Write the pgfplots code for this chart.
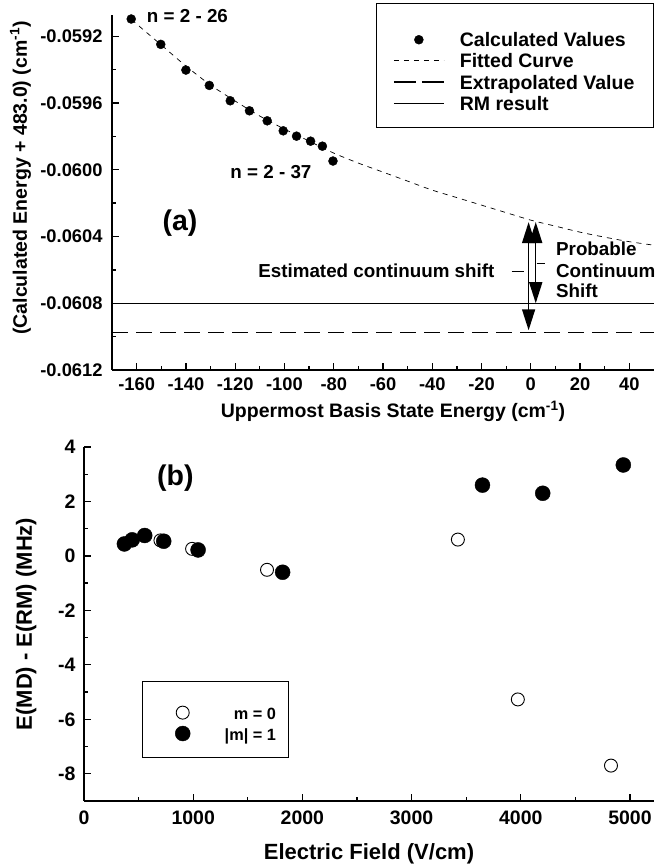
\documentclass[border=0pt]{standalone}
\usepackage{fontspec}
\setmainfont{Liberation Sans}
\usepackage{pgfplots}
\pgfplotsset{compat=1.18}
\usetikzlibrary{arrows.meta}
\newcommand\fa{\fontsize{18.3}{22}\selectfont\bfseries}
\newcommand\fann{\fontsize{18.8}{22}\selectfont\bfseries}
\newcommand\flega{\fontsize{19.5}{22.3}\selectfont\bfseries}
\newcommand\fal{\fontsize{19.5}{23}\selectfont\bfseries}
\newcommand\fb{\fontsize{19.5}{23}\selectfont\bfseries}
\newcommand\fbl{\fontsize{22}{26}\selectfont\bfseries}
\newcommand\flegb{\fontsize{16.3}{22}\selectfont\bfseries}
\newcommand\fpanel{\fontsize{28.5}{32}\selectfont\bfseries}
\pgfplotsset{
  lineleg/.style={legend image code/.code={\path[draw=none,fill=none] (0pt,0pt) -- (64pt,0pt); \draw[##1] (0pt,0pt) -- (50pt,0pt);}},
  longleg/.style={legend image code/.code={\path[draw=none,fill=none] (0pt,0pt) -- (64pt,0pt); \draw[##1, dash pattern=on 22pt off 6pt] (0pt,0pt) -- (50pt,0pt);}},
  dotleg/.style={legend image code/.code={\path[draw=none,fill=none] (0pt,0pt) -- (64pt,0pt); \draw[##1] plot coordinates {(25pt,0pt)};}},
  circleg/.style={legend image code/.code={\path[draw=none,fill=none] (-8pt,0pt) -- (40pt,0pt); \draw[##1] plot coordinates {(0pt,0pt)};}},
}

\begin{document}
\begin{tikzpicture}[x=1pt,y=1pt]
\useasboundingbox (0,0) rectangle (654,867);
% (a) convergence with basis size
\begin{axis}[
  at={(112pt,497pt)}, anchor=south west, scale only axis,
  width=542pt, height=355pt,
  xmin=-170, xmax=50, ymin=-0.0612, ymax=-0.059073,
  clip=false, scaled y ticks=false, scaled x ticks=false,
  axis lines*=left, axis line style={line width=1.8pt},
  tick align=inside, major tick length=7pt, minor tick length=4pt,
  every tick/.style={black, line width=1.3pt},
  xtick={-160,-140,...,40},
  xticklabels={-160,-140,-120,-100,-80,-60,-40,-20,0,20,40},
  minor x tick num=1,
  ytick={-0.0612,-0.0608,-0.0604,-0.0600,-0.0596,-0.0592},
  yticklabels={-0.0612,-0.0608,-0.0604,-0.0600,-0.0596,-0.0592},
  minor y tick num=1,
  ticklabel style={font=\fa},
  yticklabel style={xshift=-6pt},
  xticklabel style={yshift=-4pt},
  xlabel={Uppermost Basis State Energy (cm\textsuperscript{-1})},
  ylabel={(Calculated Energy + 483.0) (cm\textsuperscript{-1})},
  xlabel style={at={([xshift=10pt,yshift=-48pt]rel axis cs:0.5,0)}, anchor=base, font=\fal},
  ylabel style={at={([xshift=-85pt,yshift=14.5pt]rel axis cs:0,0.5)}, anchor=base, font=\fal},
  reverse legend,
  legend cell align=left,
  legend style={at={(rel axis cs:0.5185,0.9606)}, anchor=north west,
    draw=none, fill=none, font=\flega, inner sep=0pt, row sep=0pt,
    cells={anchor=west}},
]
\addplot[black, line width=1.1pt, lineleg]
  coordinates {(-170,-0.0608) (50,-0.0608)};
\addplot[black, line width=1.3pt, dash pattern=on 16pt off 8pt, longleg]
  coordinates {(-170,-0.060974) (50,-0.060974)};
\addplot[black, line width=0.7pt, dash pattern=on 5pt off 5pt, smooth, lineleg]
  coordinates {
  (-162,-0.059098) (-160,-0.0591268) (-150,-0.0592528) (-140,-0.0593787)
  (-130,-0.0594927) (-120,-0.0595886) (-110,-0.0596786) (-100,-0.0597565)
  (-90,-0.0598285) (-80,-0.0599004) (-70,-0.0599604) (-60,-0.0600144)
  (-50,-0.0600684) (-40,-0.0601223) (-30,-0.0601673) (-20,-0.0602123)
  (-10,-0.0602573) (0,-0.0603022) (10,-0.0603382) (20,-0.0603742)
  (30,-0.0604042) (40,-0.0604312) (50,-0.0604522)};
\addplot[only marks, mark=*, mark size=4.5pt, black, dotleg]
  coordinates {
  (-162.2,-0.059097) (-150.2,-0.059249) (-140.0,-0.059403) (-130.5,-0.059495)
  (-122.0,-0.059587) (-114.2,-0.059647) (-107.0,-0.059707) (-100.5,-0.059767)
  (-95.1,-0.059799) (-89.4,-0.059829) (-84.6,-0.059859) (-80.3,-0.059948)};
\legend{\strut RM result, \strut Extrapolated Value, \strut Fitted Curve, \strut Calculated Values}
\draw[line width=1pt] (rel axis cs:0.4889,1.031) rectangle (rel axis cs:0.9982,0.6817);
% continuum shift arrows
\draw[line width=1.5pt, {Triangle[width=13pt,length=21pt]}-{Triangle[width=13pt,length=21pt]}]
  (axis cs:-0.9,-0.060314) -- (axis cs:-0.9,-0.060962);
\draw[line width=1.5pt, {Triangle[width=13pt,length=21pt]}-{Triangle[width=13pt,length=21pt]}]
  (axis cs:2.0,-0.060314) -- (axis cs:2.0,-0.0608);
\draw[line width=1pt] (axis cs:-7.8,-0.060608) -- (axis cs:-2.9,-0.060608);
\draw[line width=1pt] (axis cs:2.4,-0.06056) -- (axis cs:5.7,-0.06056);
\node[font=\fann, anchor=base east, inner sep=0] at (axis cs:-14.7,-0.060644) {Estimated continuum shift};
\node[font=\fann, anchor=base west, inner sep=0] at (axis cs:10.2,-0.060512) {Probable};
\node[font=\fann, anchor=base west, inner sep=0] at (axis cs:10.2,-0.060644) {Continuum};
\node[font=\fann, anchor=base west, inner sep=0] at (axis cs:10.2,-0.060764) {Shift};
\node[font=\fann, anchor=base west, inner sep=0] at (axis cs:-155.9,-0.059115) {n = 2 - 26};
\node[font=\fann, anchor=base west, inner sep=0] at (axis cs:-122,-0.06005) {n = 2 - 37};
\node[font=\fpanel, anchor=base, inner sep=0] at (axis cs:-142.4,-0.060362) {(a)};
\end{axis}
% (b) field dependence
\begin{axis}[
  at={(84pt,66pt)}, anchor=south west, scale only axis,
  width=570pt, height=354pt,
  xmin=0, xmax=5220, ymin=-9, ymax=4,
  clip=false, scaled x ticks=false,
  axis lines*=left, axis line style={line width=1.8pt},
  tick align=inside, major tick length=7pt, minor tick length=4pt,
  every tick/.style={black, line width=1.3pt},
  xtick={0,1000,...,5000}, xticklabels={0,1000,2000,3000,4000,5000},
  minor x tick num=1,
  ytick={-8,-6,...,4}, yticklabels={-8,-6,-4,-2,0,2,4},
  minor y tick num=1,
  ticklabel style={font=\fb},
  yticklabel style={xshift=-5pt},
  xticklabel style={yshift=-6pt},
  xlabel={Electric Field (V/cm)},
  ylabel={E(MD) - E(RM) (MHz)},
  xlabel style={at={([yshift=-59pt]rel axis cs:0.5,0)}, anchor=base, font=\fbl},
  ylabel style={at={([xshift=-52pt]rel axis cs:0,0.5)}, anchor=base, font=\fbl},
  legend cell align=right,
  legend style={at={(rel axis cs:0.1588,0.2797)}, anchor=north west,
    draw=none, fill=none, font=\flegb, inner sep=0pt, row sep=0pt},
]
\addplot[only marks, mark=*, mark size=6.5pt, mark options={fill=white, draw=black, line width=0.9pt}, circleg]
  coordinates {(700,0.57) (990,0.26) (1676,-0.51) (3424,0.60) (3973,-5.27) (4826,-7.70)};
\addplot[only marks, mark=*, mark size=7.5pt, mark options={fill=black, draw=black}, circleg]
  coordinates {(370,0.44) (441,0.59) (556,0.75) (730,0.54) (1045,0.22) (1819,-0.60)
  (3649,2.60) (4201,2.30) (4939,3.34)};
\legend{\strut m = 0, \strut |m| = 1}
\draw[line width=1pt] (rel axis cs:0.1018,0.3362) rectangle (rel axis cs:0.3596,0.1215);
\node[font=\fpanel, anchor=base, inner sep=0] at (axis cs:837,2.59) {(b)};
\end{axis}
\end{tikzpicture}
\end{document}
